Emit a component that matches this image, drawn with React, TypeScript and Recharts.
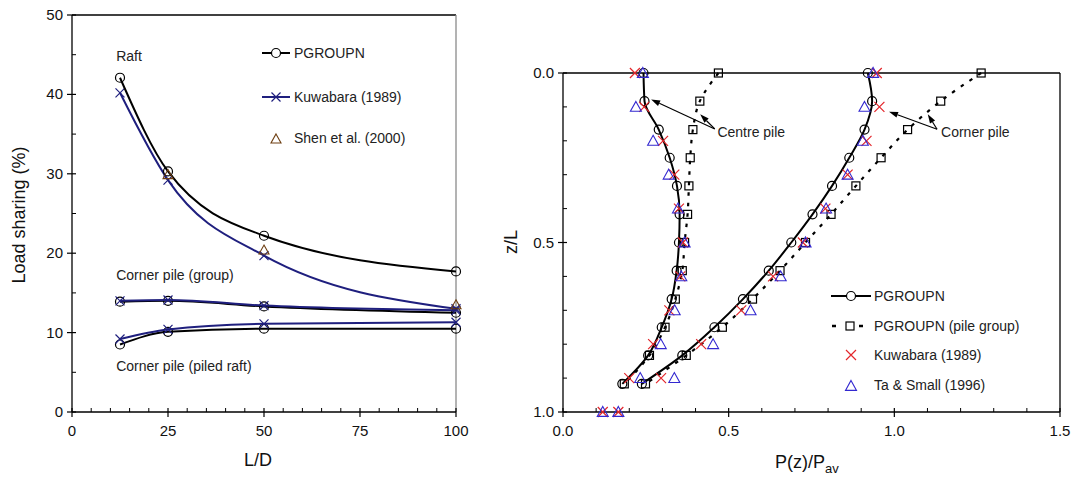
import React from "react";
import { ScatterChart, Scatter, XAxis, YAxis, ReferenceLine, ReferenceDot } from "recharts";

const FONT = '"Liberation Sans", Arial, Helvetica, sans-serif';
const NAVY = "#1f1f7e";
const RED = "#e3262b";
const BLUE = "#3328d0";
const BROWN = "#6e3f12";

// ---- left panel: load sharing vs L/D ----
const ldValues = [12.5, 25, 50, 100];
const raftPgroupn = [42.1, 30.3, 22.2, 17.7];
const raftKuwabara = [40.2, 29.2, 19.7, 13.0];
const groupPgroupn = [13.9, 14.0, 13.3, 12.5];
const groupKuwabara = [14.0, 14.1, 13.4, 12.8];
const piledPgroupn = [8.5, 10.1, 10.5, 10.5];
const piledKuwabara = [9.2, 10.4, 11.1, 11.3];
const shenLd = [25, 50, 100];
const shenRaft = [29.9, 20.4, 13.5];

const ldTicks = [0, 5, 10, 15, 20, 25, 30, 35, 40, 45, 50, 55, 60, 65, 70, 75, 80, 85, 90, 95, 100];
const shareTicks = [0, 5, 10, 15, 20, 25, 30, 35, 40, 45, 50];

// ---- right panel: P(z)/Pav vs z/L ----
const zPgroupn = [0, 0.083, 0.167, 0.25, 0.333, 0.417, 0.5, 0.583, 0.667, 0.75, 0.833, 0.917];
const zRef = [0, 0.1, 0.2, 0.3, 0.4, 0.5, 0.6, 0.7, 0.8, 0.9, 1.0];
const centrePgroupn = [0.243, 0.246, 0.289, 0.322, 0.344, 0.352, 0.35, 0.343, 0.328, 0.298, 0.257, 0.179];
const centreGroup = [0.469, 0.413, 0.392, 0.384, 0.38, 0.376, 0.367, 0.36, 0.339, 0.308, 0.261, 0.185];
const centreKuwabara = [0.217, 0.245, 0.302, 0.336, 0.35, 0.362, 0.354, 0.321, 0.272, 0.2, 0.12];
const centreTaSmall = [0.241, 0.22, 0.272, 0.319, 0.347, 0.367, 0.357, 0.337, 0.295, 0.233, 0.12];
const cornerPgroupn = [0.92, 0.933, 0.91, 0.864, 0.812, 0.753, 0.689, 0.621, 0.543, 0.457, 0.36, 0.238];
const cornerGroup = [1.262, 1.14, 1.04, 0.96, 0.884, 0.809, 0.732, 0.655, 0.572, 0.481, 0.372, 0.249];
const cornerKuwabara = [0.947, 0.955, 0.916, 0.859, 0.792, 0.724, 0.634, 0.538, 0.417, 0.296, 0.167];
const cornerTaSmall = [0.936, 0.91, 0.905, 0.859, 0.794, 0.732, 0.657, 0.566, 0.453, 0.336, 0.167];

const ratioTicks = [0, 0.1, 0.2, 0.3, 0.4, 0.5, 0.6, 0.7, 0.8, 0.9, 1.0, 1.1, 1.2, 1.3, 1.4, 1.5];
const depthTicks = [0, 0.1, 0.2, 0.3, 0.4, 0.5, 0.6, 0.7, 0.8, 0.9, 1.0];

const pts = (xs: number[], ys: number[]) => xs.map((x, i) => ({ x, y: ys[i] }));

// marker shapes
const circle = (r: number) => (p: any) => (
  <circle cx={p.cx} cy={p.cy} r={r} fill="none" stroke="#000" strokeWidth={1.2} />
);
const square = (s: number) => (p: any) => (
  <rect x={p.cx - s / 2} y={p.cy - s / 2} width={s} height={s} fill="none" stroke="#000" strokeWidth={1.2} />
);
const cross = (s: number, color: string) => (p: any) => (
  <path
    d={`M${p.cx - s},${p.cy - s}L${p.cx + s},${p.cy + s}M${p.cx - s},${p.cy + s}L${p.cx + s},${p.cy - s}`}
    stroke={color}
    strokeWidth={1.2}
    fill="none"
  />
);
const triangle = (s: number, color: string) => (p: any) => (
  <path
    d={`M${p.cx},${p.cy - s}L${p.cx + s},${p.cy + s * 0.8}L${p.cx - s},${p.cy + s * 0.8}Z`}
    stroke={color}
    strokeWidth={1.1}
    fill="none"
  />
);

function bottomTick(isMajor: (v: number) => boolean, fmt: (v: number) => string) {
  return (props: any) => {
    const { x, y, payload } = props;
    const v = Number(payload.value);
    if (!isMajor(v)) return <line x1={x} x2={x} y1={y} y2={y - 4} stroke="#000" strokeWidth={1} />;
    return (
      <g>
        <line x1={x} x2={x} y1={y - 4} y2={y + 5} stroke="#000" strokeWidth={1.2} />
        <text x={x} y={y + 24} textAnchor="middle" fontSize={15} fontFamily={FONT} fill="#111">
          {fmt(v)}
        </text>
      </g>
    );
  };
}

function leftTick(isMajor: (v: number) => boolean, fmt: (v: number) => string) {
  return (props: any) => {
    const { x, y, payload } = props;
    const v = Number(payload.value);
    if (!isMajor(v)) return <line x1={x} x2={x + 4} y1={y} y2={y} stroke="#000" strokeWidth={1} />;
    return (
      <g>
        <line x1={x - 5} x2={x + 4} y1={y} y2={y} stroke="#000" strokeWidth={1.2} />
        <text x={x - 9} y={y + 5} textAnchor="end" fontSize={15} fontFamily={FONT} fill="#111">
          {fmt(v)}
        </text>
      </g>
    );
  };
}

const halfStep = (v: number) => Math.abs(v * 2 - Math.round(v * 2)) < 1e-6;

const note = (label: string) => (p: any) => (
  <text x={p.cx} y={p.cy + 5} fontSize={14} fontFamily={FONT} fill="#222">
    {label}
  </text>
);

const arrow = (p: any) => {
  const { x1, y1, x2, y2 } = p;
  const a = Math.atan2(y2 - y1, x2 - x1);
  const bx = x2 - 9 * Math.cos(a);
  const by = y2 - 9 * Math.sin(a);
  const px = -Math.sin(a) * 3;
  const py = Math.cos(a) * 3;
  return (
    <g>
      <line x1={x1} y1={y1} x2={bx} y2={by} stroke="#000" strokeWidth={1.2} />
      <path d={`M${x2},${y2}L${bx + px},${by + py}L${bx - px},${by - py}Z`} fill="#000" />
    </g>
  );
};

const solid = { stroke: "#000", strokeWidth: 2, fill: "none" };
const navyLine = { stroke: NAVY, strokeWidth: 2, fill: "none" };
const dotted = { stroke: "#000", strokeWidth: 2.2, strokeDasharray: "3.5 7", fill: "none" };

export default function App() {
  return (
    <div style={{ position: "absolute", left: 0, top: 0, width: 1077, height: 480, background: "#fff" }}>
      <div style={{ position: "absolute", left: 0, top: 0 }}>
        <ScatterChart width={480} height={480} margin={{ top: 15, right: 24, bottom: 0, left: 0 }}>
          <XAxis
            type="number"
            dataKey="x"
            domain={[0, 100]}
            ticks={ldTicks}
            interval={0}
            tick={bottomTick((v) => v % 25 === 0, (v) => String(v))}
            tickLine={false}
            tickSize={0}
            tickMargin={0}
            height={68}
            axisLine={{ stroke: "#000", strokeWidth: 1.3 }}
          />
          <YAxis
            type="number"
            dataKey="y"
            domain={[0, 50]}
            ticks={shareTicks}
            interval={0}
            tick={leftTick((v) => v % 10 === 0, (v) => String(v))}
            tickLine={false}
            tickSize={0}
            tickMargin={0}
            width={72}
            axisLine={{ stroke: "#000", strokeWidth: 1.3 }}
          />
          <ReferenceLine y={50} stroke="#000" strokeWidth={1.3} />
          <ReferenceLine x={100} stroke="#8a8a8a" strokeWidth={1.3} />
          <Scatter data={pts(ldValues, raftKuwabara)} fill="none" line={navyLine} lineJointType="monotoneX" shape={cross(4.5, NAVY)} isAnimationActive={false} />
          <Scatter data={pts(ldValues, raftPgroupn)} fill="none" line={solid} lineJointType="monotoneX" shape={circle(4.5)} isAnimationActive={false} />
          <Scatter data={pts(ldValues, groupPgroupn)} fill="none" line={solid} lineJointType="monotoneX" shape={circle(4.5)} isAnimationActive={false} />
          <Scatter data={pts(ldValues, groupKuwabara)} fill="none" line={navyLine} lineJointType="monotoneX" shape={cross(4.5, NAVY)} isAnimationActive={false} />
          <Scatter data={pts(ldValues, piledPgroupn)} fill="none" line={solid} lineJointType="monotoneX" shape={circle(4.5)} isAnimationActive={false} />
          <Scatter data={pts(ldValues, piledKuwabara)} fill="none" line={navyLine} lineJointType="monotoneX" shape={cross(4.5, NAVY)} isAnimationActive={false} />
          <Scatter data={pts(shenLd, shenRaft)} fill="none" shape={triangle(5, BROWN)} isAnimationActive={false} />
          <ReferenceDot x={11.5} y={44.8} shape={note("Raft")} />
          <ReferenceDot x={11.5} y={17.25} shape={note("Corner pile (group)")} />
          <ReferenceDot x={11.5} y={5.8} shape={note("Corner pile (piled raft)")} />
        </ScatterChart>
      </div>

      <div style={{ position: "absolute", left: 480, top: 0 }}>
        <ScatterChart width={597} height={480} margin={{ top: 73, right: 17, bottom: 0, left: 0 }}>
          <XAxis
            type="number"
            dataKey="x"
            domain={[0, 1.5]}
            ticks={ratioTicks}
            interval={0}
            tick={bottomTick(halfStep, (v) => v.toFixed(1))}
            tickLine={false}
            tickSize={0}
            tickMargin={0}
            height={68}
            axisLine={{ stroke: "#000", strokeWidth: 1.3 }}
          />
          <YAxis
            type="number"
            dataKey="y"
            domain={[0, 1]}
            reversed
            ticks={depthTicks}
            interval={0}
            tick={leftTick(halfStep, (v) => v.toFixed(1))}
            tickLine={false}
            tickSize={0}
            tickMargin={0}
            width={83}
            axisLine={{ stroke: "#000", strokeWidth: 1.3 }}
          />
          <ReferenceLine y={0} stroke="#000" strokeWidth={1.3} />
          <ReferenceLine x={1.5} stroke="#000" strokeWidth={1.3} />
          <Scatter data={pts(centreGroup, zPgroupn)} fill="none" line={dotted} lineJointType="monotoneY" shape={square(8)} isAnimationActive={false} />
          <Scatter data={pts(cornerGroup, zPgroupn)} fill="none" line={dotted} lineJointType="monotoneY" shape={square(8)} isAnimationActive={false} />
          <Scatter data={pts(centrePgroupn, zPgroupn)} fill="none" line={solid} lineJointType="monotoneY" shape={circle(4.5)} isAnimationActive={false} />
          <Scatter data={pts(cornerPgroupn, zPgroupn)} fill="none" line={solid} lineJointType="monotoneY" shape={circle(4.5)} isAnimationActive={false} />
          <Scatter data={pts(centreKuwabara, zRef)} fill="none" shape={cross(5, RED)} isAnimationActive={false} />
          <Scatter data={pts(cornerKuwabara, zRef)} fill="none" shape={cross(5, RED)} isAnimationActive={false} />
          <Scatter data={pts(centreTaSmall, zRef)} fill="none" shape={triangle(5.5, BLUE)} isAnimationActive={false} />
          <Scatter data={pts(cornerTaSmall, zRef)} fill="none" shape={triangle(5.5, BLUE)} isAnimationActive={false} />
          <ReferenceLine segment={[{ x: 0.458, y: 0.165 }, { x: 0.266, y: 0.078 }]} shape={arrow} />
          <ReferenceLine segment={[{ x: 0.458, y: 0.165 }, { x: 0.414, y: 0.122 }]} shape={arrow} />
          <ReferenceLine segment={[{ x: 1.129, y: 0.166 }, { x: 0.984, y: 0.114 }]} shape={arrow} />
          <ReferenceLine segment={[{ x: 1.129, y: 0.166 }, { x: 1.101, y: 0.122 }]} shape={arrow} />
          <ReferenceDot x={0.466} y={0.175} shape={note("Centre pile")} />
          <ReferenceDot x={1.141} y={0.175} shape={note("Corner pile")} />
        </ScatterChart>
      </div>

      <svg
        width={1077}
        height={480}
        style={{ position: "absolute", left: 0, top: 0, pointerEvents: "none" }}
        fontFamily={FONT}
      >
        {/* left axis titles */}
        <text x={19} y={215} transform="rotate(-90 19 215)" textAnchor="middle" dominantBaseline="central" fontSize={18} fill="#111">
          Load sharing (%)
        </text>
        <text x={258} y={466} textAnchor="middle" fontSize={18} fill="#111">
          L/D
        </text>
        {/* left legend */}
        <line x1={262} x2={290} y1={53} y2={53} stroke="#000" strokeWidth={2} />
        <circle cx={276} cy={53} r={4.5} fill="#fff" stroke="#000" strokeWidth={1.2} />
        <text x={294} y={58} fontSize={14} fill="#222">PGROUPN</text>
        <line x1={262} x2={290} y1={97} y2={97} stroke={NAVY} strokeWidth={2} />
        {cross(4.5, NAVY)({ cx: 276, cy: 97 })}
        <text x={294} y={102} fontSize={14} fill="#222">Kuwabara (1989)</text>
        {triangle(5, BROWN)({ cx: 276, cy: 139 })}
        <text x={294} y={143} fontSize={14} fill="#222">Shen et al. (2000)</text>

        {/* right axis titles */}
        <text x={511} y={242} transform="rotate(-90 511 242)" textAnchor="middle" dominantBaseline="central" fontSize={18} fill="#111">
          z/L
        </text>
        <text x={775} y={468} fontSize={18} fill="#111">
          P(z)/P<tspan dy={5} fontSize={13}>av</tspan>
        </text>
        {/* right legend */}
        <line x1={831} x2={871} y1={296} y2={296} stroke="#000" strokeWidth={2} />
        <circle cx={851} cy={296} r={4.5} fill="#fff" stroke="#000" strokeWidth={1.2} />
        <text x={874} y={301} fontSize={14} fill="#222">PGROUPN</text>
        <line x1={832} x2={836} y1={326} y2={326} stroke="#000" strokeWidth={2.5} />
        <line x1={859} x2={863} y1={326} y2={326} stroke="#000" strokeWidth={2.5} />
        <rect x={846} y={322} width={8} height={8} fill="none" stroke="#000" strokeWidth={1.2} />
        <text x={874} y={331} fontSize={14} fill="#222">PGROUPN (pile group)</text>
        {cross(5, RED)({ cx: 851, cy: 355 })}
        <text x={874} y={360} fontSize={14} fill="#222">Kuwabara (1989)</text>
        {triangle(5.5, BLUE)({ cx: 851, cy: 386 })}
        <text x={874} y={390} fontSize={14} fill="#222">Ta &amp; Small (1996)</text>
      </svg>
    </div>
  );
}
